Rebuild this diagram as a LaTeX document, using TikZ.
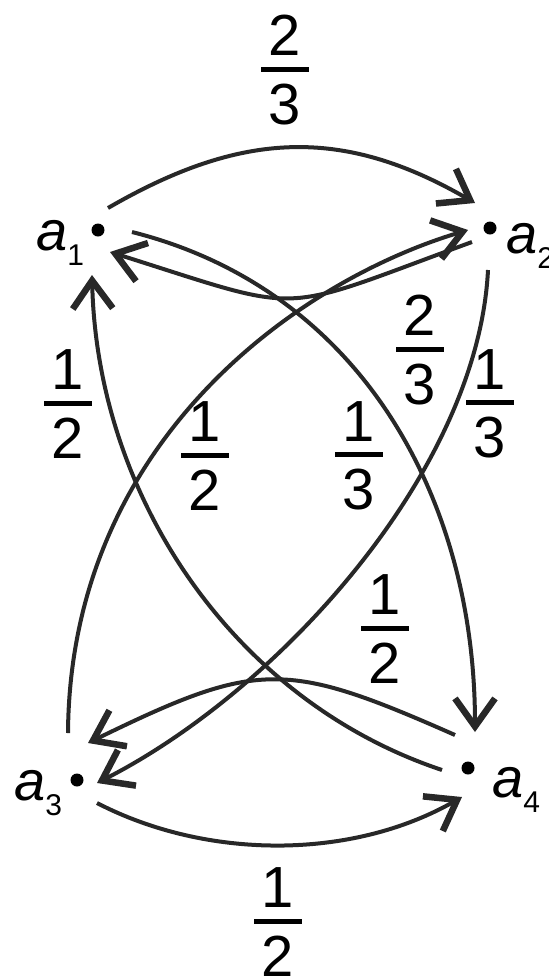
\documentclass[tikz,border=0pt]{standalone}
\usepackage{fontspec}
\setmainfont{Liberation Sans}
\usetikzlibrary{arrows.meta}
\newcommand\myfrac[2]{\vbox{\offinterlineskip\halign{\hfil##\hfil\cr #1\cr\noalign{\kern 11pt}\rule{48pt}{5pt}\cr\noalign{\kern 12pt}#2\cr}}}
\newcommand\vlab[1]{{\fontsize{56}{60}\selectfont\itshape a}\raisebox{-15pt}{\fontsize{30}{32}\selectfont #1}}
\begin{document}
\begin{tikzpicture}[x=1pt,y=-1pt,
  edge/.style={line width=4pt, draw={rgb,255:red,40;green,40;blue,40}, -{Straight Barb[length=28pt,width=40pt,line width=6.5pt]}},
  frac/.style={inner sep=0pt, font=\fontsize{58}{60}\selectfont},
  dot/.style={circle, fill, inner sep=0pt, minimum size=13pt},
  vname/.style={inner sep=0pt, anchor=base west}]
\useasboundingbox (0,0) rectangle (549,978);
% vertices
\node[dot] (a1) at (98,230) {};
\node[dot] (a2) at (490,228) {};
\node[dot] (a3) at (77,780) {};
\node[dot] (a4) at (468,768) {};
\node[vname] (l1) at (36,250) {\vlab{1}};
\node[vname] (l2) at (506,253) {\vlab{2}};
\node[vname] (l3) at (14,800) {\vlab{3}};
\node[vname] (l4) at (492,797) {\vlab{4}};
% edges
\draw[edge] ([shift={(10,-22)}]a1.center) .. controls (241,131) and (342,126) .. ([shift={(-15,-25)}]a2.center);
\draw[edge] ([shift={(-18,14)}]a2.center) .. controls (272,315) and (310,315) .. ([shift={(12,22)}]a1.center);
\draw[edge] ([shift={(34,2)}]a1.center) .. controls (362,290) and (475,500) .. ([shift={(7,-36)}]a4.center);
\draw[edge] ([shift={(-2,42)}]a2.center) .. controls (478,470) and (280,690) .. ([shift={(20,3)}]a3.center);
\draw[edge] ([shift={(-9,-47)}]a3.center) .. controls (70,440) and (300,280) .. ([shift={(-22,2)}]a2.center);
\draw[edge] ([shift={(-26,2)}]a4.center) .. controls (232,700) and (97,495) .. ([shift={(-6,45)}]a1.center);
\draw[edge] ([shift={(-13,-33)}]a4.center) .. controls (285,660) and (258,660) .. ([shift={(11,-37)}]a3.center);
\draw[edge] ([shift={(20,23)}]a3.center) .. controls (207,860) and (352,860) .. ([shift={(-6,29)}]a4.center);
% weights
\node[frac] (f12) at (285,70) {\myfrac{2}{3}};
\node[frac] (f21) at (420,350) {\myfrac{2}{3}};
\node[frac] (f14) at (359,456) {\myfrac{1}{3}};
\node[frac] (f23) at (490,404) {\myfrac{1}{3}};
\node[frac] (f41) at (68,404) {\myfrac{1}{2}};
\node[frac] (f32) at (205,456) {\myfrac{1}{2}};
\node[frac] (f43) at (385,629) {\myfrac{1}{2}};
\node[frac] (f34) at (278,922) {\myfrac{1}{2}};
\end{tikzpicture}
\end{document}
